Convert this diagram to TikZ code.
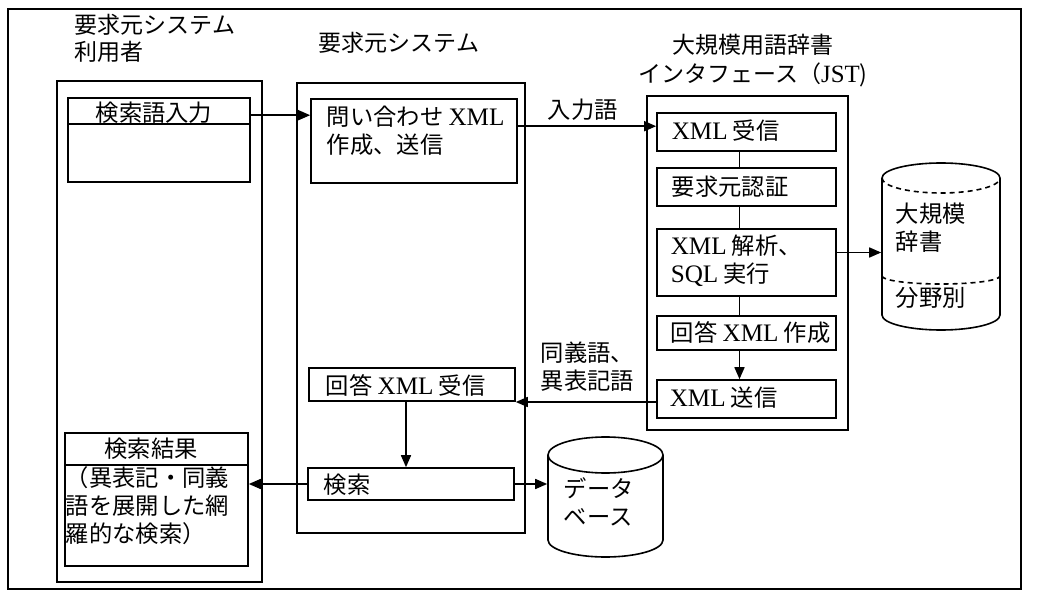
\documentclass[tikz,border=0pt]{standalone}
\usepackage{fontspec}
\setmainfont{Noto Sans CJK JP}
\newfontfamily\lat[Scale=1.08]{Liberation Serif}
\usetikzlibrary{arrows.meta,fit}
\newcommand\lt[1]{{\lat #1}}
\begin{document}
\begin{tikzpicture}[x=1pt,y=-1pt,line width=1.6pt,
  font=\fontsize{23.3}{28}\selectfont,
  box/.style={draw,inner sep=0pt},
  txt/.style={inner sep=0pt,anchor=west,align=left},
  arr/.style={-{Triangle[length=12pt,width=10pt]}},
  dsh/.style={dash pattern=on 5pt off 4pt}]
\useasboundingbox (0,0) rectangle (1037,591);
\fill[white] (0,0) rectangle (1037,591);
% outer frame
\node[box,fit={(8,9) (1021,589)}] (frame) {};
% headers
\node[txt,anchor=north west,font=\fontsize{23}{27}\selectfont] (h1) at (74,13) {要求元システム\\利用者};
\node[txt,font=\fontsize{23}{27}\selectfont] (h2) at (318,43) {要求元システム};
\node[inner sep=0pt,align=center,font=\fontsize{23}{29}\selectfont] (h3) at (753,61) {大規模用語辞書\\インタフェース（\lt{JST})};
% columns
\node[box,fit={(57,81) (262,582)}] (colU) {};
\node[box,fit={(297,83) (525,533)}] (colS) {};
\node[box,fit={(647,96) (848,430)}] (colJ) {};
% user boxes
\node[box,fit={(68,98) (250,182)}] (in1) {};
\draw ([yshift=-27pt]in1.north west) -- ([yshift=-27pt]in1.north east);
\node[inner sep=0pt] (in1t) at (154,113) {検索語入力};
\node[box,fit={(65,433) (248,566)}] (res) {};
\draw ([yshift=-33pt]res.north west) -- ([yshift=-33pt]res.north east);
\node[inner sep=0pt] (rest) at (151,449) {検索結果};
\node[txt] (resb) at (65,506) {（異表記・同義\\語を展開した網\\羅的な検索）};
% system boxes
\node[box,fit={(311,99) (517,183)}] (q) {};
\node[txt] (qt) at (326,131) {問い合わせ \lt{XML}\\作成、送信};
\node[box,fit={(309,368) (515,401)}] (r) {};
\node[txt] (rt) at (325,385) {回答 \lt{XML} 受信};
\node[box,fit={(308,468) (514,500)}] (s) {};
\node[txt] (st) at (323,485) {検索};
% JST boxes
\node[box,fit={(657,113) (836,151)}] (a) {};
\node[txt] (at) at (671,131) {\lt{XML} 受信};
\node[box,fit={(657,168) (836,206)}] (b) {};
\node[txt] (bt) at (671,187) {要求元認証};
\node[box,fit={(657,229) (836,296)}] (c) {};
\node[txt] (ct) at (670,261) {\lt{XML} 解析、\\\lt{SQL} 実行};
\node[box,fit={(657,316) (836,350)}] (d) {};
\node[txt] (dt) at (670,333) {回答 \lt{XML} 作成};
\node[box,fit={(657,380) (836,418)}] (e) {};
\node[txt] (et) at (669,398) {\lt{XML} 送信};
% JST connectors
\draw ([xshift=-7pt]a.south) -- ([xshift=-7pt]b.north);
\draw ([xshift=-7pt]b.south) -- ([xshift=-7pt]c.north);
\draw ([xshift=-7pt]c.south) -- ([xshift=-7pt]d.north);
\draw[arr] ([xshift=-7pt]d.south) -- ([xshift=-7pt]e.north);
% dictionary cylinder
\node[inner sep=0pt,minimum width=118pt,minimum height=137pt] (dict) at (941,246.5) {};
\draw (882,178) -- (882,315) arc[start angle=180,end angle=360,x radius=59pt,y radius=15pt] -- (1000,178);
\draw (882,178) arc[start angle=180,end angle=0,x radius=59pt,y radius=15pt];
\draw[dsh] (882,178) arc[start angle=180,end angle=360,x radius=59pt,y radius=15pt];
\draw[dsh] (882,276) arc[start angle=180,end angle=360,x radius=59pt,y radius=8pt];
\node[txt] (dictt) at (895,228) {大規模\\辞書};
\node[txt] (dictf) at (895,298) {分野別};
% database cylinder
\node[inner sep=0pt,minimum width=115pt,minimum height=85pt] (db) at (605.5,497.5) {};
\draw (548,455) -- (548,540) arc[start angle=180,end angle=360,x radius=57.5pt,y radius=17pt] -- (663,455);
\draw (605.5,455) ellipse[x radius=57.5pt,y radius=18pt];
\node[txt] (dbt) at (563,502) {データ\\ベース};
% connectors
\draw[arr] ([yshift=-18pt]in1.north east) -- ([yshift=-18pt]in1.north east -| q.west);
\draw[arr] ([yshift=-28pt]q.north east) -- ([yshift=-28pt]q.north east -| a.west)
  node[pos=0.47,above=5pt,inner sep=0pt] (lbl1) {入力語};
\draw[arr] ([yshift=-3pt]e.west) -- ([yshift=-3pt]e.west -| r.east);
\node[txt] (lbl2) at (540,367) {同義語、\\異表記語};
\draw[arr] ([xshift=-6pt]r.south) -- ([xshift=-6pt]r.south |- s.north);
\draw[arr] (s.west) -- (s.west -| res.east);
\draw[arr] (s.east) -- (s.east -| db.west);
\draw[arr] ([yshift=10pt]c.east) -- ([yshift=10pt]c.east -| dict.west);
\end{tikzpicture}
\end{document}
